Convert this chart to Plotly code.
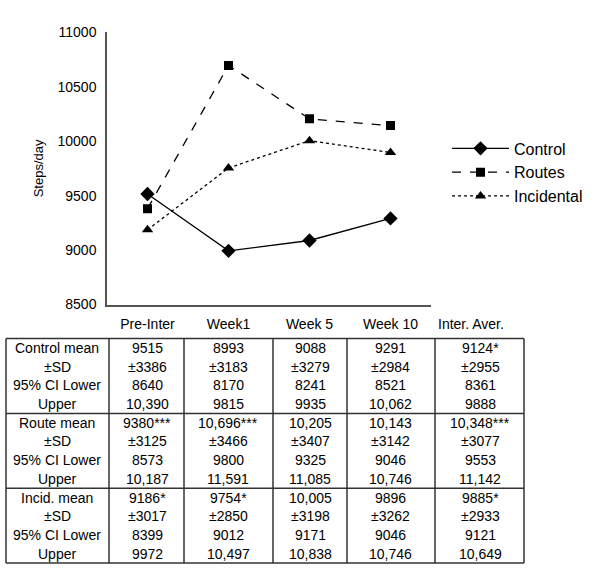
import plotly.graph_objects as go

W, H = 600, 575

# ---- data ----
periods = ["Pre-Inter", "Week1", "Week 5", "Week 10"]
table_columns = ["Pre-Inter", "Week1", "Week 5", "Week 10", "Inter. Aver."]
control_steps = [9515, 8993, 9088, 9291]
routes_steps = [9380, 10696, 10205, 10143]
incidental_steps = [9186, 9754, 10005, 9896]

y_ticks = [8500, 9000, 9500, 10000, 10500, 11000]

row_labels_control = ["Control mean", "±SD", "95% CI Lower", "Upper"]
row_labels_route = ["Route mean", "±SD", "95% CI Lower", "Upper"]
row_labels_incid = ["Incid. mean", "±SD", "95% CI Lower", "Upper"]

# each inner list: one table column (mean, SD, CI lower, CI upper)
control_table = [
    ["9515", "±3386", "8640", "10,390"],
    ["8993", "±3183", "8170", "9815"],
    ["9088", "±3279", "8241", "9935"],
    ["9291", "±2984", "8521", "10,062"],
    ["9124*", "±2955", "8361", "9888"],
]
route_table = [
    ["9380***", "±3125", "8573", "10,187"],
    ["10,696***", "±3466", "9800", "11,591"],
    ["10,205", "±3407", "9325", "11,085"],
    ["10,143", "±3142", "9046", "10,746"],
    ["10,348***", "±3077", "9553", "11,142"],
]
incid_table = [
    ["9186*", "±3017", "8399", "9972"],
    ["9754*", "±2850", "9012", "10,497"],
    ["10,005", "±3198", "9171", "10,838"],
    ["9896", "±3262", "9046", "10,746"],
    ["9885*", "±2933", "9121", "10,649"],
]

# ---- layout helpers (pixel -> paper) ----
def px(x):
    return x / W

def py(y):
    return 1 - y / H

FONT = "Arial, Liberation Sans, sans-serif"

fig = go.Figure()
series = [
    ("Control", control_steps, "solid", "diamond", 11),
    ("Routes", routes_steps, "dash", "square", 9),
    ("Incidental", incidental_steps, "dot", "triangle-up", 10),
]
for name, vals, dash, sym, size in series:
    fig.add_trace(go.Scatter(
        x=periods, y=vals, name=name, mode="lines+markers",
        line=dict(color="black", width=1.3, dash=dash),
        marker=dict(symbol=sym, size=size, color="black"),
    ))

# ---- table ----
col_edges = [6, 109, 184, 273, 347, 435, 524]
col_centers = [147, 228, 310, 391, 480]
label_center = 57
table_top = 340
group_h = 77
row_h = 19.25
annotations = []
shapes = []
TSIZE = 14

groups = [
    (row_labels_control, control_table),
    (row_labels_route, route_table),
    (row_labels_incid, incid_table),
]
for g, (labels, cols) in enumerate(groups):
    gtop = table_top + g * group_h
    for r, lab in enumerate(labels):
        yc = gtop + 9.6 + r * row_h
        annotations.append(dict(
            x=px(label_center), y=py(yc), xref="paper", yref="paper",
            text=lab, showarrow=False, xanchor="center", yanchor="middle",
            font=dict(family=FONT, size=TSIZE, color="black")))
        for c, colvals in enumerate(cols):
            annotations.append(dict(
                x=px(col_centers[c]), y=py(yc), xref="paper", yref="paper",
                text=colvals[r], showarrow=False, xanchor="center", yanchor="middle",
                font=dict(family=FONT, size=TSIZE, color="black")))

# header for the average column (others are the axis tick labels)
annotations.append(dict(
    x=px(471), y=py(325), xref="paper", yref="paper",
    text=table_columns[4], showarrow=False, xanchor="center", yanchor="middle",
    font=dict(family=FONT, size=TSIZE, color="black")))

table_bottom = table_top + 3 * group_h
line_style = dict(color="#333333", width=1.5)
for xe in col_edges:
    shapes.append(dict(type="line", xref="paper", yref="paper",
                       x0=px(xe), x1=px(xe), y0=py(table_top), y1=py(table_bottom),
                       line=line_style))
for g in range(4):
    ye = table_top + g * group_h
    shapes.append(dict(type="line", xref="paper", yref="paper",
                       x0=px(col_edges[0]), x1=px(col_edges[-1]), y0=py(ye), y1=py(ye),
                       line=line_style))

fig.update_layout(
    width=W, height=H,
    margin=dict(l=0, r=0, t=0, b=0),
    paper_bgcolor="white", plot_bgcolor="white",
    font=dict(family=FONT, color="black"),
    xaxis=dict(
        domain=[px(107), px(431)], type="category", categoryorder="array",
        categoryarray=periods, range=[-0.5, 3.5],
        showline=True, linecolor="#555555", linewidth=1.5,
        showgrid=False, zeroline=False, ticks="",
        tickfont=dict(family=FONT, size=TSIZE, color="black"),
        ticklabelstandoff=6,
    ),
    yaxis=dict(
        domain=[py(305), py(25)], range=[8500, 11000],
        tickvals=y_ticks, tickformat="d",
        showline=True, linecolor="#555555", linewidth=1.5,
        showgrid=False, zeroline=False, ticks="",
        tickfont=dict(family=FONT, size=14, color="black"),
        ticklabelstandoff=6,
        title=dict(text="Steps/day", font=dict(family=FONT, size=13, color="black"),
                   standoff=11),
    ),
    legend=dict(
        x=px(447), y=py(127), xanchor="left", yanchor="top",
        font=dict(family=FONT, size=16, color="black"),
        itemwidth=57, bgcolor="rgba(0,0,0,0)", borderwidth=0,
        tracegroupgap=0,
    ),
    annotations=annotations,
    shapes=shapes,
)

fig.write_html(
    "out.html",
    config={"displayModeBar": False},
    post_script="document.body.style.margin='0';document.body.style.padding='0';",
)
